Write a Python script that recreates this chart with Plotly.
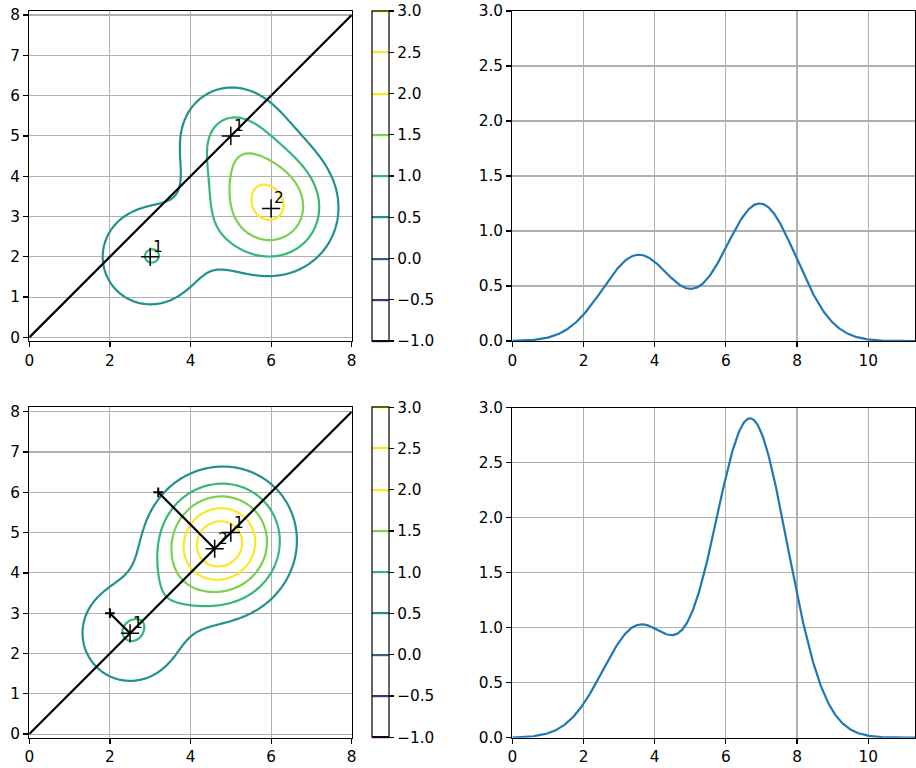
import numpy as np
import plotly.graph_objects as go

# ---------------- data ----------------
# top row: weighted points of the mixture
top_x = [3.0, 5.0, 6.0]
top_y = [2.0, 5.0, 3.2]
top_w = [1, 1, 2]
top_labels = ["1", "1", "2"]

# bottom row: points after projection onto the diagonal
bot_x = [2.5, 4.6, 5.0]
bot_y = [2.5, 4.6, 5.0]
bot_w = [1, 2, 1]
bot_labels = ["1", "2", "1"]
# original positions of the projected points
orig_x = [2.0, 3.2]
orig_y = [3.0, 6.0]
proj_x = [2.5, 4.6]
proj_y = [2.5, 4.6]

kernel_sigma = 1.0
levels_start, levels_end, levels_step = -1.0, 3.0, 0.5
cbar_ticks = [-1.0, -0.5, 0.0, 0.5, 1.0, 1.5, 2.0, 2.5, 3.0]
cbar_ticktext = ["\u22121.0", "\u22120.5", "0.0", "0.5", "1.0", "1.5", "2.0", "2.5", "3.0"]
diag_x = [0, 8]
diag_y = [0, 8]

# ---------------- helpers ----------------
def density(px, py, cx, cy, w, s):
    out = np.zeros_like(px, dtype=float)
    for a, b, c in zip(cx, cy, w):
        out += c * np.exp(-((px - a) ** 2 + (py - b) ** 2) / (2 * s * s))
    return out

gx = np.linspace(0, 8, 241)
gy = np.linspace(-0.1, 8.1, 247)
GX, GY = np.meshgrid(gx, gy)
Z_top = density(GX, GY, top_x, top_y, top_w, kernel_sigma)
Z_bot = density(GX, GY, bot_x, bot_y, bot_w, kernel_sigma)

tmax = 8 * np.sqrt(2)
t = np.linspace(0, tmax, 500)
line_top = density(t / np.sqrt(2), t / np.sqrt(2), top_x, top_y, top_w, kernel_sigma)
line_bot = density(t / np.sqrt(2), t / np.sqrt(2), bot_x, bot_y, bot_w, kernel_sigma)

colorscale = [
    [0.0, "#440154"],
    [0.125, "#46327e"],
    [0.25, "#365c8d"],
    [0.375, "#21918c"],
    [0.5, "#35b779"],
    [0.625, "#7ad151"],
    [0.75, "#fde725"],
    [1.0, "#fde725"],
]

W, H = 916, 768
FONT = dict(family="DejaVu Sans", size=15.3, color="black")

def px2x(p):
    return p / W

def px2y(p):
    return 1 - p / H

fig = go.Figure()

def add_contour(Z, xa, ya, cb_top, cb_bottom):
    fig.add_trace(go.Contour(
        x=gx, y=gy, z=Z, xaxis=xa, yaxis=ya,
        autocontour=False,
        contours=dict(start=levels_start, end=levels_end, size=levels_step,
                      coloring="lines", showlabels=False),
        colorscale=colorscale,
        line=dict(width=2.2),
        hoverinfo="skip",
        colorbar=dict(
            x=px2x(371.7), xanchor="left", xpad=0,
            y=px2y(cb_top), yanchor="top", ypad=0,
            len=cb_bottom - cb_top, lenmode="pixels",
            thickness=16.6, thicknessmode="pixels",
            outlinewidth=1.2, outlinecolor="black",
            tickmode="array", tickvals=cbar_ticks, ticktext=cbar_ticktext,
            ticks="outside", ticklen=5, tickcolor="black", tickwidth=1.2,
            tickfont=FONT, ticklabeloverflow="allow",
        ),
    ))

add_contour(Z_top, "x", "y", 11, 341)
add_contour(Z_bot, "x3", "y3", 407.3, 737.7)

# diagonal lines
for xa, ya in [("x", "y"), ("x3", "y3")]:
    fig.add_trace(go.Scatter(x=diag_x, y=diag_y, xaxis=xa, yaxis=ya, mode="lines",
                             line=dict(color="black", width=2.2), hoverinfo="skip",
                             showlegend=False))

# projection segments (bottom)
for ox, oy, qx, qy in zip(orig_x, orig_y, proj_x, proj_y):
    fig.add_trace(go.Scatter(x=[ox, qx], y=[oy, qy], xaxis="x3", yaxis="y3", mode="lines",
                             line=dict(color="black", width=2.2), hoverinfo="skip",
                             showlegend=False))
fig.add_trace(go.Scatter(x=orig_x, y=orig_y, xaxis="x3", yaxis="y3", mode="markers",
                         marker=dict(symbol="cross-thin", size=7, color="black",
                                     line=dict(color="black", width=2)),
                         hoverinfo="skip", showlegend=False))

# weighted points
for xs, ys, xa, ya in [(top_x, top_y, "x", "y"), (bot_x, bot_y, "x3", "y3")]:
    fig.add_trace(go.Scatter(x=xs, y=ys, xaxis=xa, yaxis=ya, mode="markers",
                             marker=dict(symbol="cross-thin", size=13, color="black",
                                         line=dict(color="black", width=1.5)),
                             hoverinfo="skip", showlegend=False))

annotations = []
for xs, ys, labs, xa, ya in [(top_x, top_y, top_labels, "x", "y"),
                             (bot_x, bot_y, bot_labels, "x3", "y3")]:
    for a, b, lab in zip(xs, ys, labs):
        annotations.append(dict(x=a + 0.05, y=b + 0.0, xref=xa, yref=ya, text=lab,
                                showarrow=False, xanchor="left", yanchor="bottom",
                                font=FONT, borderpad=0))

# 1D profiles
fig.add_trace(go.Scatter(x=t, y=line_top, xaxis="x2", yaxis="y2", mode="lines",
                         line=dict(color="#1f77b4", width=2.2), showlegend=False))
fig.add_trace(go.Scatter(x=t, y=line_bot, xaxis="x4", yaxis="y4", mode="lines",
                         line=dict(color="#1f77b4", width=2.2), showlegend=False))

axis_common = dict(showline=True, mirror=True, linecolor="black", linewidth=1.2,
                   ticks="outside", ticklen=5, tickcolor="black", tickwidth=1.2,
                   showgrid=True, gridcolor="#b0b0b0", gridwidth=1.1,
                   zeroline=False, tickfont=FONT, automargin=False,
                   ticklabeloverflow="allow")

left_dom = [px2x(29.3), px2x(351.7)]
right_dom = [px2x(512.3), px2x(915)]
top_dom = [px2y(341), px2y(11)]
bot_dom = [px2y(737.7), px2y(407.3)]

fig.update_layout(
    template="none",
    width=W, height=H,
    margin=dict(l=0, r=0, t=0, b=0, pad=0),
    paper_bgcolor="white", plot_bgcolor="white",
    showlegend=False,
    font=FONT,
    annotations=annotations,
    xaxis=dict(domain=left_dom, anchor="y", range=[0, 8], tickvals=[0, 2, 4, 6, 8], **axis_common),
    yaxis=dict(domain=top_dom, anchor="x", range=[-0.09, 8.1], tickvals=list(range(9)), **axis_common),
    xaxis2=dict(domain=right_dom, anchor="y2", range=[0, tmax], tickvals=[0, 2, 4, 6, 8, 10], **axis_common),
    yaxis2=dict(domain=top_dom, anchor="x2", range=[0, 3], tickvals=[0, 0.5, 1, 1.5, 2, 2.5, 3],
                tickformat=".1f", **axis_common),
    xaxis3=dict(domain=left_dom, anchor="y3", range=[0, 8], tickvals=[0, 2, 4, 6, 8], **axis_common),
    yaxis3=dict(domain=bot_dom, anchor="x3", range=[-0.09, 8.11], tickvals=list(range(9)), **axis_common),
    xaxis4=dict(domain=right_dom, anchor="y4", range=[0, tmax], tickvals=[0, 2, 4, 6, 8, 10], **axis_common),
    yaxis4=dict(domain=[px2y(737.7), px2y(407.7)], anchor="x4", range=[0, 3],
                tickvals=[0, 0.5, 1, 1.5, 2, 2.5, 3], tickformat=".1f", **axis_common),
)

# remove the page's default body margin so the 916x768 figure fills the window
fig.write_html("out.html",
               config={"displayModeBar": False, "staticPlot": True},
               post_script="document.body.style.margin='0px';document.body.style.overflow='hidden';")
